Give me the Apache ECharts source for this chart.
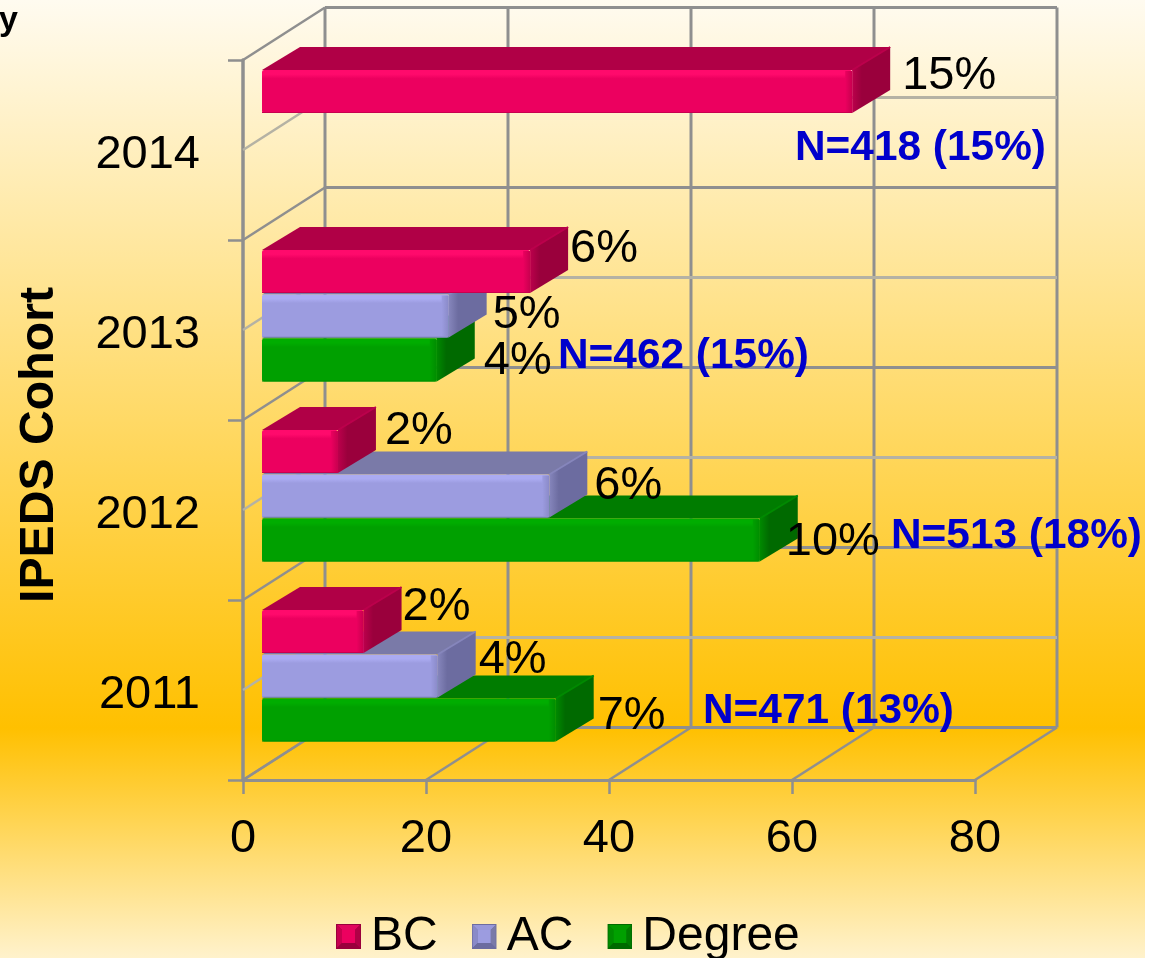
<!DOCTYPE html>
<html>
<head>
<meta charset="utf-8">
<script src="https://cdn.jsdelivr.net/npm/echarts@6/dist/echarts.min.js"></script>
<style>
html,body{margin:0;padding:0;background:#fff;width:1159px;height:958px;overflow:hidden}
#bg{position:absolute;left:0;top:0;width:1145px;height:958px;
background:linear-gradient(180deg,#fffbf0 0%,#ffc000 76%,#fff2cc 100%)}
#main{position:absolute;left:0;top:0;width:1159px;height:958px}
</style>
</head>
<body>
<div id="bg"></div>
<div id="main"></div>
<script>
// ---- data ----
var cohorts = ['2011', '2012', '2013', '2014'];
var bcValues = [11.1, 8.3, 29.3, 64.5];
var acValues = [19.2, 31.4, 20.4, null];
var degreeValues = [32.1, 54.4, 19.1, null];
var bcPct = ['2%', '2%', '6%', '15%'];
var acPct = ['4%', '6%', '5%', null];
var degreePct = ['7%', '10%', '4%', null];
var cohortNotes = ['N=471 (13%)', 'N=513 (18%)', 'N=462 (15%)', 'N=418 (15%)'];
var xTicks = [0, 20, 40, 60, 80];

// ---- layout / style (not data) ----
var FONT = '"Liberation Sans", Arial, sans-serif';
var GRID = {left: 243, right: 184, top: 60, bottom: 178};
var WALL = {dx: 82, dy: -52.5};
var BAR = {inset: 19, h: 43, dx: 38, dy: -23};
var slots = {BC: -80, AC: -35.5, Degree: 8.5};
var palette = {
  BC: {front: '#ec005f', hi: '#ff0a6c', top: '#b00046', side: '#9a003c', sideHi: '#bc004c', edge: '#c8004f'},
  AC: {front: '#9c9ce0', hi: '#ababf2', top: '#7a7aa8', side: '#6c6ca0', sideHi: '#8686bc', edge: '#8a8ac8'},
  Degree: {front: '#00a000', hi: '#00ad00', top: '#007c00', side: '#006a00', sideHi: '#008a00', edge: '#008c00'}
};
var labelShift = {
  BC: [[1, -24], [9, -20], [2, -22], [12, -15]],
  AC: [[3, -15.5], [7, -9.5], [6, -0.5], null],
  Degree: [[4, -3.5], [-12, 2.5], [9, 1.5], null]
};
var notePos = [[703, 714], [891, 539], [558, 359], [795, 151]];

function legendIcon(p) {
  var svg = '<svg xmlns="http://www.w3.org/2000/svg" width="25" height="25" viewBox="0 0 25 25">' +
    '<rect width="25" height="25" fill="' + p.side + '"/>' +
    '<polygon points="1,1 24,1 19,6 6,6" fill="' + p.hi + '" opacity="0.7"/>' +
    '<polygon points="1,1 6,6 6,19 1,24" fill="' + p.edge + '"/>' +
    '<polygon points="24,1 24,24 19,19 19,6" fill="' + p.top + '"/>' +
    '<polygon points="1,24 24,24 19,19 6,19" fill="' + p.side + '"/>' +
    '<rect x="6" y="6" width="13" height="13" fill="' + p.front + '"/></svg>';
  return 'image://data:image/svg+xml;charset=utf-8,' + encodeURIComponent(svg);
}

function barRenderer(name) {
  var p = palette[name];
  return function (params, api) {
    var v = api.value(0);
    if (v == null || isNaN(v)) return null;
    var c = api.coord([v, api.value(1)]);
    var o = api.coord([0, api.value(1)]);
    var x0 = o[0] + BAR.inset, x1 = x0 + (c[0] - o[0]);
    var t = c[1] + slots[name], b = t + BAR.h;
    var dx = BAR.dx, dy = BAR.dy;
    return {
      type: 'group',
      children: [
        {type: 'polygon', shape: {points: [[x0, t], [x0 + dx, t + dy], [x1 + dx, t + dy], [x1, t]]},
          style: {fill: p.top}},
        {type: 'polygon', shape: {points: [[x1, t], [x1 + dx, t + dy], [x1 + dx, b + dy], [x1, b]]},
          style: {fill: {type: 'linear', x: 0, y: 0, x2: 1, y2: 0,
            colorStops: [{offset: 0, color: p.sideHi}, {offset: 0.25, color: p.side}, {offset: 1, color: p.side}]}}},
        {type: 'line', shape: {x1: x1, y1: t, x2: x1 + dx, y2: t + dy},
          style: {stroke: p.sideHi, lineWidth: 2}},
        {type: 'rect', shape: {x: x0, y: t, width: x1 - x0, height: BAR.h, r: 2},
          style: {fill: {type: 'linear', x: 0, y: 0, x2: 0, y2: 1,
            colorStops: [{offset: 0, color: p.hi}, {offset: 0.1, color: p.hi}, {offset: 0.2, color: p.front}, {offset: 1, color: p.front}]}}},
        {type: 'rect', shape: {x: x1 - 7, y: t + 1, width: 7, height: BAR.h - 2},
          style: {fill: {type: 'linear', x: 0, y: 0, x2: 1, y2: 0,
            colorStops: [{offset: 0, color: p.front}, {offset: 1, color: p.edge}]}}},
        {type: 'line', shape: {x1: x0, y1: b - 0.5, x2: x1, y2: b - 0.5},
          style: {stroke: p.edge, lineWidth: 1}}
      ]
    };
  };
}

function pairs(values) {
  return cohorts.map(function (c, i) { return [values[i], i]; });
}

var labelItems = [];
[['BC', bcValues, bcPct], ['AC', acValues, acPct], ['Degree', degreeValues, degreePct]].forEach(function (g) {
  g[1].forEach(function (v, i) {
    if (v != null) labelItems.push({group: g[0], value: v, cat: i, text: g[2][i], shift: labelShift[g[0]][i]});
  });
});

var wallGray = '#8f8f8f', wallLight = '#b5b2a4';

function wallV(params, api) {
  var p = api.coord([api.value(0), 0]);
  var band = api.size([0, 1])[1];
  var x = p[0], yb = p[1] + band / 2;
  var yTopBack = api.coord([0, cohorts.length - 1])[1] - band / 2 + WALL.dy;
  return {
    type: 'group',
    children: [
      {type: 'line', shape: {x1: x, y1: yb, x2: x + WALL.dx, y2: yb + WALL.dy},
        style: {stroke: wallGray, lineWidth: 2.5}},
      {type: 'line', shape: {x1: x + WALL.dx, y1: yb + WALL.dy, x2: x + WALL.dx, y2: yTopBack},
        style: {stroke: wallGray, lineWidth: 3}}
    ]
  };
}

function wallH(params, api) {
  var cat = api.value(1);
  var c = api.coord([0, cat]);
  var xEnd = api.coord([xTicks[xTicks.length - 1], cat])[0];
  var band = api.size([0, 1])[1];
  var kids = [];
  function ring(y, color, w) {
    kids.push({type: 'line', shape: {x1: c[0], y1: y, x2: c[0] + WALL.dx, y2: y + WALL.dy},
      style: {stroke: color, lineWidth: w}});
    kids.push({type: 'line', shape: {x1: c[0] + WALL.dx, y1: y + WALL.dy, x2: xEnd + WALL.dx, y2: y + WALL.dy},
      style: {stroke: color, lineWidth: w + 0.5}});
  }
  ring(c[1], wallLight, 2.5);
  ring(c[1] - band / 2, wallGray, 2.5);
  if (cat === 0) ring(c[1] + band / 2, wallGray, 2.5);
  return {type: 'group', children: kids};
}

var chart = echarts.init(document.getElementById('main'), null, {renderer: 'canvas', width: 1159, height: 958});

var graphicEls = cohortNotes.map(function (t, i) {
  return {type: 'text', left: notePos[i][0], top: notePos[i][1] - 24, z: 100,
    style: {text: t, fill: '#0000cc', font: 'bold 42.4px ' + FONT}};
});
graphicEls.push({type: 'text', left: -1, top: 4, z: 100,
  style: {text: 'y', fill: '#000', font: 'bold 34px ' + FONT}});

chart.setOption({
  animation: false,
  backgroundColor: 'transparent',
  textStyle: {fontFamily: FONT},
  grid: {left: GRID.left, right: GRID.right, top: GRID.top, bottom: GRID.bottom, containLabel: false},
  xAxis: {
    type: 'value', min: 0, max: 80, interval: 20,
    splitLine: {show: false},
    axisLine: {show: true, lineStyle: {color: wallGray, width: 3}},
    axisTick: {show: true, length: 14, lineStyle: {color: wallGray, width: 2.5}},
    axisLabel: {color: '#000', fontSize: 47, margin: 36, fontFamily: FONT, hideOverlap: false}
  },
  yAxis: {
    type: 'category', data: cohorts,
    name: 'IPEDS Cohort', nameLocation: 'middle', nameGap: 179, nameRotate: 90,
    nameTextStyle: {color: '#000', fontSize: 48.2, fontWeight: 'bold', fontFamily: FONT, padding: [0, 50, 0, 0]},
    splitLine: {show: false},
    axisLine: {show: true, lineStyle: {color: wallGray, width: 3.5}},
    axisTick: {show: true, length: 15, lineStyle: {color: wallGray, width: 2.5}},
    axisLabel: {
      margin: 43, formatter: '{yr|{value}}',
      rich: {yr: {color: '#000', fontSize: 47, fontFamily: FONT, padding: [10, 0, 0, 0]}}
    }
  },
  legend: {
    left: 336, top: 912.5, padding: 0, itemWidth: 25, itemHeight: 25, itemGap: 34, selectedMode: false,
    textStyle: {color: '#000', fontSize: 48, fontFamily: FONT, padding: [0, 0, 0, 5]},
    data: ['BC', 'AC', 'Degree'].map(function (n) {
      return {name: n, icon: legendIcon(palette[n])};
    })
  },
  graphic: {elements: graphicEls},
  series: [
    {name: 'wallV', type: 'custom', z: 1, silent: true, coordinateSystem: 'cartesian2d',
      renderItem: wallV, encode: {x: 0, y: 1}, clip: false,
      data: xTicks.map(function (t) { return [t, 0]; })},
    {name: 'wallH', type: 'custom', z: 1, silent: true, coordinateSystem: 'cartesian2d',
      renderItem: wallH, encode: {x: 0, y: 1}, clip: false,
      data: cohorts.map(function (c, i) { return [0, i]; })},
    {name: 'Degree', type: 'custom', z: 3, renderItem: barRenderer('Degree'), encode: {x: 0, y: 1}, clip: false,
      itemStyle: {color: palette.Degree.front}, data: pairs(degreeValues)},
    {name: 'AC', type: 'custom', z: 4, renderItem: barRenderer('AC'), encode: {x: 0, y: 1}, clip: false,
      itemStyle: {color: palette.AC.front}, data: pairs(acValues)},
    {name: 'BC', type: 'custom', z: 5, renderItem: barRenderer('BC'), encode: {x: 0, y: 1}, clip: false,
      itemStyle: {color: palette.BC.front}, data: pairs(bcValues)},
    {name: 'pct', type: 'custom', z: 6, silent: true, encode: {x: 0, y: 1}, clip: false,
      data: labelItems.map(function (d) { return [d.value, d.cat]; }),
      renderItem: function (params, api) {
        var d = labelItems[params.dataIndex];
        var c = api.coord([d.value, d.cat]);
        return {type: 'text', style: {
          text: d.text, font: '47px ' + FONT, fill: '#000', verticalAlign: 'middle', align: 'left',
          x: c[0] + BAR.inset + BAR.dx + d.shift[0],
          y: c[1] + slots[d.group] + BAR.h / 2 + d.shift[1]
        }};
      }}
  ]
});
</script>
</body>
</html>
